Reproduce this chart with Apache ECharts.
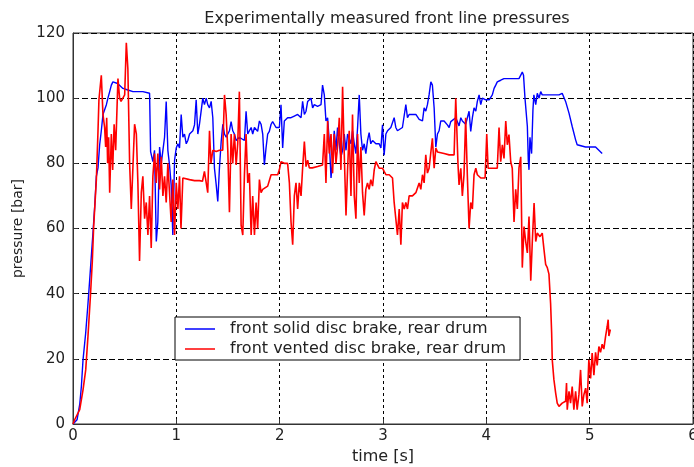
<!DOCTYPE html>
<html>
<head>
<meta charset="utf-8">
<script src="https://cdn.jsdelivr.net/npm/echarts@6/dist/echarts.min.js"></script>
<style>html,body{margin:0;padding:0;background:#fff}#c{width:694px;height:467px}</style>
</head>
<body>
<div id="c"></div>
<script>
var titleText = 'Experimentally measured front line pressures';
var xName = 'time [s]';
var yName = 'pressure [bar]';
var seriesNames = ['front solid disc brake, rear drum', 'front vented disc brake, rear drum'];
var xTicks = [0, 1, 2, 3, 4, 5, 6];
var yTicks = [0, 20, 40, 60, 80, 100, 120];

// front solid disc brake (blue)
var blueT = [0,0.039,0.065,0.081,0.097,0.123,0.145,0.161,0.193,0.21,0.226,0.242,0.258,0.274,0.29,0.323,0.338,0.355,0.371,0.386,0.432,0.483,0.531,0.58,0.676,0.741,0.751,0.773,0.789,0.806,0.821,0.838,0.854,0.87,0.886,0.902,0.918,0.934,0.95,0.966,0.983,0.999,1.015,1.031,1.047,1.063,1.079,1.096,1.111,1.128,1.16,1.176,1.192,1.208,1.224,1.24,1.256,1.272,1.289,1.304,1.321,1.337,1.353,1.369,1.386,1.401,1.417,1.434,1.45,1.466,1.482,1.498,1.514,1.53,1.546,1.562,1.579,1.61,1.627,1.659,1.675,1.691,1.707,1.724,1.739,1.756,1.787,1.804,1.82,1.836,1.852,1.868,1.884,1.9,1.917,1.932,1.965,1.997,2.013,2.029,2.045,2.077,2.11,2.142,2.174,2.207,2.222,2.239,2.255,2.271,2.303,2.319,2.335,2.367,2.4,2.415,2.432,2.448,2.464,2.48,2.497,2.512,2.528,2.545,2.56,2.577,2.593,2.609,2.625,2.642,2.657,2.69,2.705,2.722,2.738,2.754,2.77,2.786,2.802,2.818,2.834,2.85,2.866,2.882,2.899,2.931,2.963,2.98,2.995,3.011,3.028,3.044,3.06,3.076,3.092,3.108,3.124,3.14,3.157,3.188,3.221,3.237,3.253,3.285,3.318,3.35,3.382,3.398,3.414,3.43,3.446,3.463,3.478,3.495,3.511,3.527,3.543,3.559,3.591,3.623,3.64,3.656,3.672,3.704,3.736,3.753,3.768,3.8,3.833,3.849,3.865,3.881,3.898,3.913,3.93,3.946,3.962,3.994,4.027,4.058,4.075,4.091,4.106,4.139,4.171,4.219,4.268,4.316,4.348,4.36,4.374,4.397,4.406,4.413,4.422,4.438,4.451,4.46,4.478,4.493,4.51,4.526,4.541,4.574,4.635,4.703,4.734,4.767,4.8,4.831,4.864,4.879,4.96,5.057,5.121];
var blueP = [0,1.3,6,11.5,19.7,28,37,44,58.6,66.7,76,78.6,85.7,90,95,98,100,102,104,105,104.5,103,102.5,102,102,101.5,83.6,80.5,84,56,62,85,80,84,88,99,84,79.5,73.4,58,81,84.7,86,84.7,95,88,89,86,87,89,90,91.8,99.5,89,92,96,100,98,100,98,97,99,94,78.5,73.4,68.3,78.5,86.7,92,89,88,89,90,92.8,90,89,87,88,87.7,87,96,89,90,91,89,91,89.8,93,92,89,79.5,84.7,89,89.8,92,92.8,91,91,98,84.7,93,94,94,94.5,95,94,99,95,96,99,100,97,98,97.5,98,104,101,93,94,86.7,75.5,80.5,90,84,91,86,82,84,89,84,89,86,90,86,83,91,101,89,84,86,83,87,89.4,86,87,86,86,84.7,91.8,82.5,89,90,89.8,91,91,94,91,90,90,91,98,94,95,95,95,93.5,93,97,96,98,101,105,104,97,85,89,90,93,93,91.8,91,92.8,93,94,91.5,94,93,92,96,89.8,94,97,96,99,101,98,100,99.5,99.5,101,103,104,105,105.5,106,106,106,106,108,107,100,91.3,81,78,88,83,96.4,101,98,101.5,100,102,101,101,101,101,101.5,99,95.4,91.3,87.2,85.7,85,85,83];

// front vented disc brake (red)
var redT = [0,0.016,0.065,0.097,0.123,0.145,0.168,0.187,0.2,0.226,0.242,0.251,0.274,0.29,0.306,0.316,0.326,0.335,0.345,0.355,0.371,0.384,0.398,0.413,0.435,0.451,0.465,0.483,0.5,0.516,0.531,0.548,0.564,0.58,0.596,0.613,0.628,0.644,0.661,0.676,0.693,0.709,0.725,0.741,0.757,0.773,0.789,0.806,0.821,0.838,0.854,0.87,0.886,0.902,0.918,0.934,0.95,0.966,0.983,0.999,1.015,1.031,1.045,1.063,1.128,1.176,1.224,1.253,1.272,1.304,1.321,1.335,1.353,1.386,1.417,1.449,1.466,1.482,1.498,1.514,1.53,1.546,1.562,1.579,1.594,1.61,1.627,1.643,1.659,1.675,1.691,1.707,1.724,1.739,1.756,1.772,1.787,1.804,1.82,1.836,1.852,1.884,1.917,1.949,1.981,1.997,2.013,2.045,2.077,2.094,2.11,2.126,2.142,2.158,2.174,2.19,2.207,2.222,2.239,2.255,2.271,2.287,2.316,2.367,2.415,2.432,2.448,2.464,2.48,2.497,2.512,2.528,2.545,2.56,2.577,2.593,2.609,2.625,2.642,2.657,2.673,2.69,2.705,2.722,2.738,2.754,2.77,2.786,2.802,2.818,2.834,2.85,2.866,2.882,2.899,2.915,2.931,2.963,2.995,3.011,3.028,3.06,3.092,3.108,3.124,3.14,3.157,3.173,3.188,3.205,3.221,3.237,3.253,3.285,3.318,3.35,3.366,3.382,3.398,3.414,3.43,3.446,3.478,3.495,3.511,3.527,3.591,3.64,3.688,3.704,3.717,3.726,3.736,3.753,3.768,3.784,3.8,3.816,3.833,3.849,3.865,3.881,3.898,3.913,3.946,3.988,4.004,4.017,4.058,4.106,4.123,4.139,4.155,4.171,4.188,4.203,4.219,4.236,4.251,4.268,4.284,4.3,4.316,4.333,4.348,4.365,4.381,4.397,4.413,4.43,4.445,4.462,4.478,4.493,4.519,4.541,4.558,4.574,4.59,4.606,4.622,4.632,4.638,4.654,4.671,4.686,4.703,4.734,4.767,4.776,4.783,4.8,4.815,4.831,4.847,4.864,4.879,4.896,4.912,4.928,4.944,4.961,4.976,4.992,5.009,5.024,5.041,5.057,5.073,5.089,5.105,5.121,5.137,5.154,5.17,5.179,5.186,5.2];
var redP = [0,1.3,4.4,10.5,16.6,27,39,50,60.6,75,90,99.5,107,95,91,85,94,80,88,71,89,78,92,84,106,100,99,99,101,117,109,80,66,79,92,89,74,50,71,76,63,68,58,70,54,76,83,74,83,72,82,70,76,68,80,71,62,75,58,74,66,76,60,75.5,75,74.7,74.7,74.5,77.5,71,90,80,84,83.6,84,84,101,95,84,65,89,80,89,79.5,86,102,61,58,76.5,89,74,77,58,70,58,68,60,75,71,72,72,73,76.5,76.5,76.5,78,80.5,80,80,74,62,55,70,74,66,74,70,78.5,86.7,79,81,78.6,78.6,79,79.5,89,74,93,83,89,77,89,80,85,94,78,103.5,83,64,78,90,70,95,70,63,89,74,85,71,64,72,74,72,75,73,78,80.5,78.5,78.5,77.5,76.5,76.5,75.5,68,63,58,66,55,68,66,68,66,70,70,71,74,72,76.5,74,82.6,77,78.5,87.7,78.5,84.7,83.5,83,82.6,82.6,100,88,79.5,73.4,78.5,70,76.5,94,76.5,60,68,66,76.5,78.5,76.5,75.5,75.5,89,78.5,78.5,78.5,91,80.5,85.7,81.5,93,85.7,88.8,80.5,78.5,62,72,66,78.6,82,48,60.6,56,52.5,63.7,44,56,67.8,56,58.6,57.5,58.6,53.5,49,48,46,37,28,19.7,13.6,9.5,6.4,5.4,6.4,7,12.6,4.4,10,6.4,11.5,4.4,10,4.4,9,16.6,5.4,9,11,6.4,19.7,14,21.8,15,22,18,23.8,22,24.5,23,26.9,30,32,27,29];

function zip(t, p) { return t.map(function (v, i) { return [v, p[i]]; }); }

var FONT = 'DejaVu Sans';
var chart = echarts.init(document.getElementById('c'), null, { renderer: 'canvas' });
chart.setOption({
  backgroundColor: '#ffffff',
  animation: false,
  title: {
    text: titleText, left: 382, top: 6, textAlign: 'center',
    textStyle: { fontFamily: FONT, fontSize: 16, fontWeight: 'normal', color: '#222' }
  },
  grid: { left: 73, right: 1, top: 33, bottom: 43, show: true, borderColor: '#333', borderWidth: 1,
    backgroundColor: '#fff', outerBoundsMode: 'none', containLabel: false },
  legend: {
    orient: 'vertical', left: 175, top: 317,
    backgroundColor: '#fff', borderColor: '#000', borderWidth: 1, borderRadius: 0,
    padding: [4, 14, 3, 10], itemGap: 4, itemWidth: 30, itemHeight: 1.5, icon: 'rect',
    textStyle: { fontFamily: FONT, fontSize: 16, color: '#222', padding: [0, 0, 0, 10] },
    data: seriesNames
  },
  xAxis: {
    type: 'value', min: xTicks[0], max: xTicks[xTicks.length - 1], interval: 1,
    name: xName, nameLocation: 'middle', nameGap: 24,
    nameTextStyle: { fontFamily: FONT, fontSize: 16, color: '#222' },
    axisLine: { lineStyle: { color: '#333' } },
    axisTick: { inside: true, length: 5, lineStyle: { color: '#333' } },
    axisLabel: { fontFamily: FONT, fontSize: 15, color: '#222', margin: 5, hideOverlap: false },
    splitLine: { show: true, lineStyle: { color: '#000', type: [3, 3], width: 1 } }
  },
  yAxis: {
    type: 'value', min: yTicks[0], max: yTicks[yTicks.length - 1], interval: 20,
    name: yName, nameLocation: 'middle', nameGap: 46, nameRotate: 90,
    nameTextStyle: { fontFamily: FONT, fontSize: 14, color: '#222' },
    axisLine: { show: true, lineStyle: { color: '#333' } },
    axisTick: { show: true, inside: true, length: 5, lineStyle: { color: '#333' } },
    axisLabel: { fontFamily: FONT, fontSize: 15, color: '#222', margin: 8 },
    splitLine: { show: true, lineStyle: { color: '#000', type: [6, 3], width: 1 } }
  },
  series: [
    { name: seriesNames[0], type: 'line', data: zip(blueT, blueP), showSymbol: false, symbol: 'none',
      lineStyle: { color: '#0000ff', width: 1.4 }, itemStyle: { color: '#0000ff' }, z: 2 },
    { name: seriesNames[1], type: 'line', data: zip(redT, redP), showSymbol: false, symbol: 'none',
      lineStyle: { color: '#ff0000', width: 1.6 }, itemStyle: { color: '#ff0000' }, z: 3 }
  ]
});
</script>
</body>
</html>
